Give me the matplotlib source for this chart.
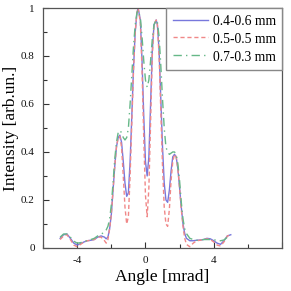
import matplotlib
matplotlib.use("Agg")
import matplotlib.pyplot as plt
from matplotlib.ticker import MultipleLocator

angle = [-5.0, -4.8, -4.6, -4.4, -4.2, -4.0, -3.8, -3.6, -3.4, -3.2, -3.0, -2.8, -2.6, -2.4, -2.3,
         -2.2, -2.1, -2.0, -1.9, -1.8, -1.7, -1.6, -1.5, -1.4, -1.3, -1.2, -1.1, -1.0, -0.9, -0.8,
         -0.7, -0.6, -0.5, -0.43, -0.3, -0.2, -0.1, 0.0, 0.1, 0.2, 0.3, 0.4, 0.5, 0.63, 0.7, 0.8,
         0.9, 1.0, 1.1, 1.2, 1.3, 1.4, 1.5, 1.6, 1.7, 1.8, 1.9, 2.0, 2.1, 2.2, 2.3, 2.4, 2.6, 2.8,
         3.0, 3.2, 3.4, 3.6, 3.8, 4.0, 4.2, 4.4, 4.6, 4.8, 5.0]

i_04_06 = [0.040, 0.055, 0.058, 0.040, 0.020, 0.012, 0.018, 0.025, 0.030, 0.032, 0.035, 0.045, 0.050, 0.045, 0.038,
           0.045, 0.08, 0.14, 0.24, 0.34, 0.42, 0.46, 0.47, 0.44, 0.36, 0.27, 0.215, 0.23, 0.36, 0.55,
           0.75, 0.90, 0.98, 1.00, 0.95, 0.78, 0.55, 0.36, 0.30, 0.38, 0.60, 0.82, 0.93, 0.95, 0.93, 0.82,
           0.62, 0.42, 0.27, 0.20, 0.19, 0.24, 0.32, 0.38, 0.39, 0.38, 0.33, 0.25, 0.17, 0.10, 0.06, 0.04, 0.03, 0.03,
           0.032, 0.033, 0.035, 0.040, 0.038, 0.030, 0.020, 0.015, 0.030, 0.050, 0.055]

i_05_05 = [0.035, 0.050, 0.055, 0.035, 0.012, 0.005, 0.015, 0.025, 0.030, 0.032, 0.035, 0.045, 0.045, 0.030, 0.020,
           0.035, 0.08, 0.14, 0.24, 0.34, 0.42, 0.46, 0.465, 0.42, 0.30, 0.17, 0.10, 0.13, 0.30, 0.52,
           0.74, 0.90, 0.98, 1.00, 0.94, 0.74, 0.46, 0.22, 0.13, 0.25, 0.52, 0.80, 0.93, 0.95, 0.93, 0.80,
           0.57, 0.34, 0.17, 0.10, 0.09, 0.16, 0.28, 0.36, 0.39, 0.38, 0.33, 0.25, 0.16, 0.09, 0.04, 0.015, 0.005, 0.02,
           0.030, 0.032, 0.035, 0.038, 0.035, 0.025, 0.012, 0.008, 0.025, 0.050, 0.055]

i_07_03 = [0.045, 0.058, 0.058, 0.045, 0.028, 0.020, 0.022, 0.028, 0.030, 0.035, 0.040, 0.050, 0.058, 0.065, 0.075,
           0.09, 0.12, 0.18, 0.27, 0.37, 0.44, 0.48, 0.49, 0.48, 0.46, 0.45, 0.46, 0.50, 0.60, 0.72,
           0.84, 0.93, 0.98, 0.99, 0.96, 0.88, 0.78, 0.70, 0.67, 0.70, 0.78, 0.87, 0.93, 0.95, 0.94, 0.88,
           0.76, 0.62, 0.50, 0.42, 0.40, 0.39, 0.395, 0.40, 0.40, 0.39, 0.35, 0.28, 0.19, 0.12, 0.08, 0.06, 0.04, 0.035,
           0.032, 0.033, 0.035, 0.035, 0.035, 0.035, 0.030, 0.030, 0.033, 0.045, 0.050]

labels = ["0.4-0.6 mm", "0.5-0.5 mm", "0.7-0.3 mm"]

plt.rcParams['font.family'] = ['Liberation Serif', 'DejaVu Serif']

fig = plt.figure(figsize=(2.91, 2.91), dpi=100)
ax = fig.add_axes([0.148, 0.148, 0.821, 0.8245])

ax.plot(angle, i_04_06, color='#7878dc', lw=1.0, ls='-', label=labels[0])
ax.plot(angle, i_05_05, color='#f08888', lw=1.0, ls=(0, (3, 2)), label=labels[1])
ax.plot(angle, i_07_03, color='#66b888', lw=1.0, ls=(0, (6, 3, 1, 3)), label=labels[2])

ax.set_xlim(-6, 8)
ax.set_ylim(0, 1)
ax.xaxis.set_major_locator(MultipleLocator(4))
ax.xaxis.set_minor_locator(MultipleLocator(2))
ax.yaxis.set_major_locator(MultipleLocator(0.2))
ax.yaxis.set_minor_locator(MultipleLocator(0.1))
ax.xaxis.set_major_formatter(plt.FuncFormatter(lambda v, p: "%d" % v if v != 8 else ""))
ax.yaxis.set_major_formatter(plt.FuncFormatter(lambda v, p: ("%g" % round(v, 1))))

ax.tick_params(which='both', direction='in', top=False, right=False, labelsize=8, colors='#333333',
               labelcolor='#111111')
ax.tick_params(which='major', length=4, width=0.8, pad=6)
ax.tick_params(which='minor', length=3, width=0.8)
for s in ax.spines.values():
    s.set_color('#555555')
    s.set_linewidth(0.9)

ax.set_xlabel("Angle [mrad]", fontsize=12.5, labelpad=3)
ax.set_ylabel("Intensity [arb.un.]", fontsize=12.5, labelpad=1)

leg = ax.legend(loc='upper right', fontsize=9.8, borderaxespad=0, fancybox=False, framealpha=1,
                edgecolor='#888888', handlelength=2.6, handleheight=1.0, labelspacing=0.3,
                borderpad=0.45, handletextpad=0.35)
leg.get_frame().set_linewidth(1.0)

fig.savefig("out.png", dpi=100)
